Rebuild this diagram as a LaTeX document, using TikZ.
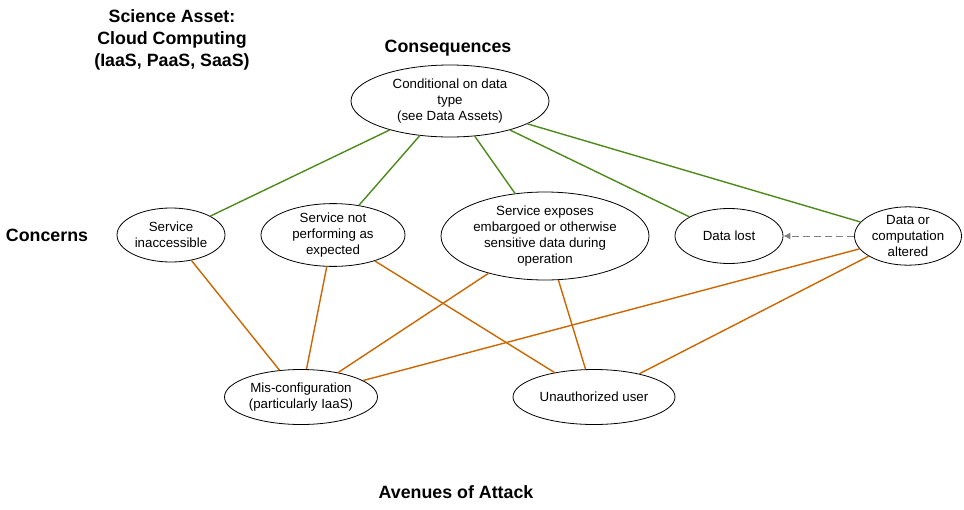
\documentclass[tikz,border=0pt]{standalone}
\usepackage{fontspec}
\setmainfont{Liberation Sans}
\usetikzlibrary{arrows.meta,positioning,shapes.geometric}
\definecolor{conseq}{RGB}{77,138,26}
\definecolor{attack}{RGB}{204,102,0}

\begin{document}
\begin{tikzpicture}[x=1pt, y=-1pt,
    every node/.style={font=\fontsize{13.3}{16}\selectfont, align=center},
    item/.style={ellipse, draw, thick, inner sep=0pt},
    heading/.style={font=\fontsize{17.8}{22}\selectfont\bfseries},
    green edge/.style={draw=conseq, line width=1.4pt},
    orange edge/.style={draw=attack, line width=1.4pt}]
    \useasboundingbox (0,0) rectangle (964,509);

    \node[heading] (asset) at (172,40) {Science Asset:\\Cloud Computing\\(IaaS, PaaS, SaaS)};
    \node[heading] (conseqhead) at (448,48) {Consequences};
    \node[heading] (concernhead) at (47,235) {Concerns};
    \node[heading] (attackhead) at (456,492) {Avenues of Attack};

    \node[item, minimum width=198, minimum height=72] (cond) at (450,101) {Conditional on data\\type\\(see Data Assets)};

    \node[item, minimum width=108, minimum height=54] (inacc) at (171,235) {Service\\inaccessible};
    \node[item, minimum width=144, minimum height=55] (perf) at (333,235) {Service not\\performing as\\expected};
    \node[item, minimum width=208, minimum height=88] (expose) at (545,236) {Service exposes\\embargoed or otherwise\\sensitive data during\\operation};
    \node[item, minimum width=108, minimum height=55] (lost) at (729,236) {Data lost};
    \node[item, minimum width=107, minimum height=55] (alter) at (908,236) {Data or\\computation\\altered};

    \node[item, minimum width=153, minimum height=55] (misconf) at (301,397) {Mis-configuration\\(particularly IaaS)};
    \node[item, minimum width=162, minimum height=55] (unauth) at (594,397) {Unauthorized user};

    \foreach \c in {inacc, perf, expose, lost, alter}
        \draw[green edge] (cond) -- (\c);

    \draw[orange edge] (inacc) -- (misconf);
    \draw[orange edge] (perf) -- (misconf);
    \draw[orange edge] (perf) -- (unauth);
    \draw[orange edge] (expose) -- (misconf);
    \draw[orange edge] (expose) -- (unauth);
    \draw[orange edge] (alter) -- (misconf);
    \draw[orange edge] (alter) -- (unauth);

    \draw[-{Latex[length=7pt,width=7pt]}, gray, dashed, dash pattern=on 7pt off 4pt, line width=0.9pt] (alter) -- (lost);
\end{tikzpicture}
\end{document}
